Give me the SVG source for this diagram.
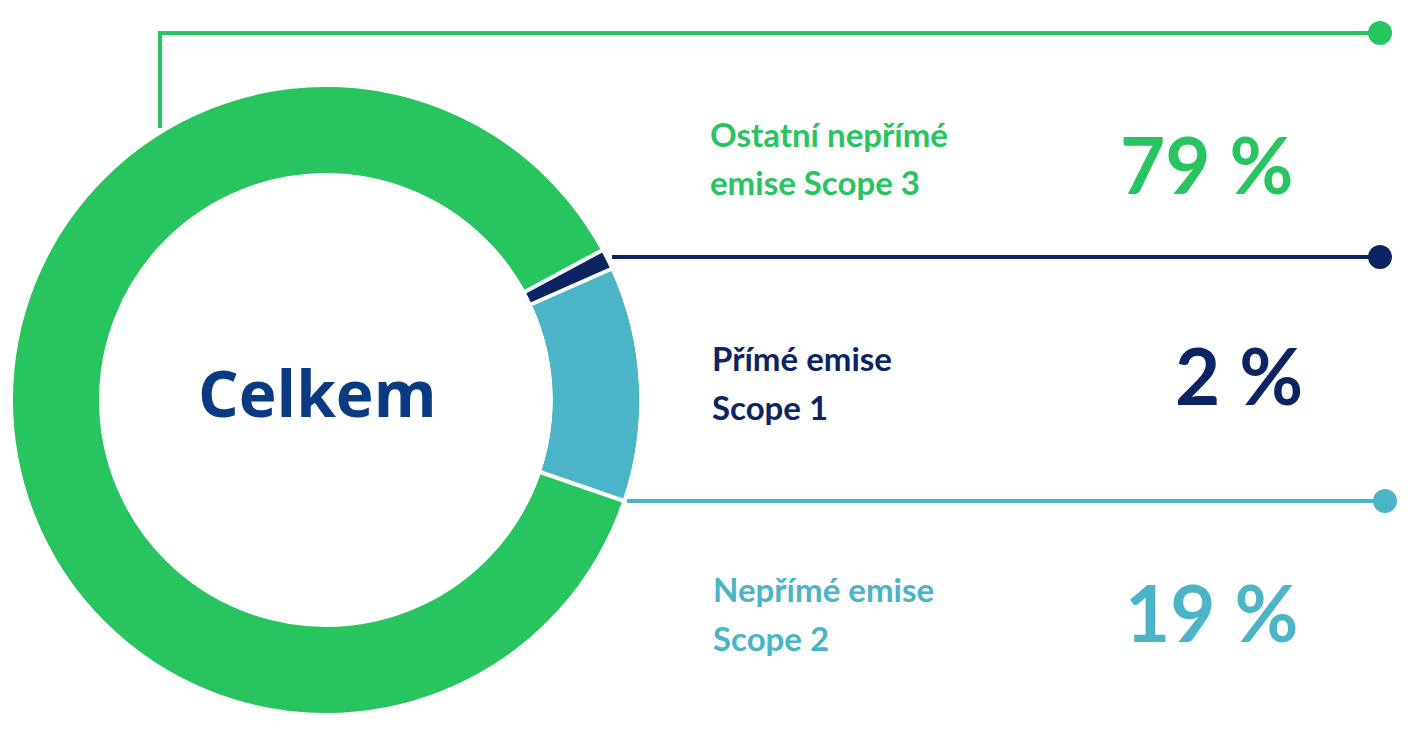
<svg xmlns="http://www.w3.org/2000/svg" width="1424" height="737" viewBox="0 0 1424 737">
<style>
.lbl{font-family:Lato,"Noto Sans",sans-serif;font-weight:bold;font-size:33px}
.pct{font-family:Lato,"Noto Sans",sans-serif;font-weight:bold;font-size:78px}
.seg{fill:none;stroke-width:86}
.g{fill:#28c45f;stroke:#28c45f}.n{fill:#0c2461;stroke:#0c2461}.b{fill:#4bb4c6;stroke:#4bb4c6}
</style>
<rect width="1424" height="737" fill="#fff"/>
<g id="donut">
<circle class="seg g" style="fill:none" cx="326" cy="400" r="270"/>
<path class="seg n" style="fill:none" d="M563.1,270.8 A270,270 0 0 1 570.7,285.9"/>
<path class="seg b" style="fill:none" d="M570.7,285.9 A270,270 0 0 1 582.0,485.6"/>
<g stroke="#fff" stroke-width="4">
<line x1="519" y1="295" x2="612" y2="245"/>
<line x1="525" y1="307" x2="618" y2="266"/>
<line x1="540" y1="472" x2="627" y2="502"/>
</g>
</g>
<g id="connectors" fill="none" stroke-width="4">
<polyline stroke="#28c45f" points="160,128 160,33 1380,33"/>
<line stroke="#0c2461" x1="612" y1="257" x2="1380" y2="257"/>
<line stroke="#4bb4c6" x1="627" y1="501" x2="1385" y2="501"/>
<circle cx="1380" cy="33" r="12" fill="#28c45f" stroke="none"/>
<circle cx="1380" cy="257" r="12" fill="#0c2461" stroke="none"/>
<circle cx="1385" cy="501" r="12" fill="#4bb4c6" stroke="none"/>
</g>
<g id="center"><text x="198" y="417" font-family="'Open Sans',sans-serif" font-weight="bold" font-size="64" fill="#0a3a82">Celkem</text></g>
<g id="scope3" fill="#28c45f">
<text class="lbl" x="710" y="147">Ostatní nepřímé</text>
<text class="lbl" x="710" y="195">emise Scope 3</text>
<text class="pct" x="1120" y="194">79 %</text>
</g>
<g id="scope1" fill="#0c2461">
<text class="lbl" x="712" y="371">Přímé emise</text>
<text class="lbl" x="712" y="420">Scope 1</text>
<text class="pct" x="1175" y="405">2 %</text>
</g>
<g id="scope2" fill="#4bb4c6">
<text class="lbl" x="713" y="602">Nepřímé emise</text>
<text class="lbl" x="713" y="651">Scope 2</text>
<text class="pct" x="1125" y="642">19 %</text>
</g>
</svg>
